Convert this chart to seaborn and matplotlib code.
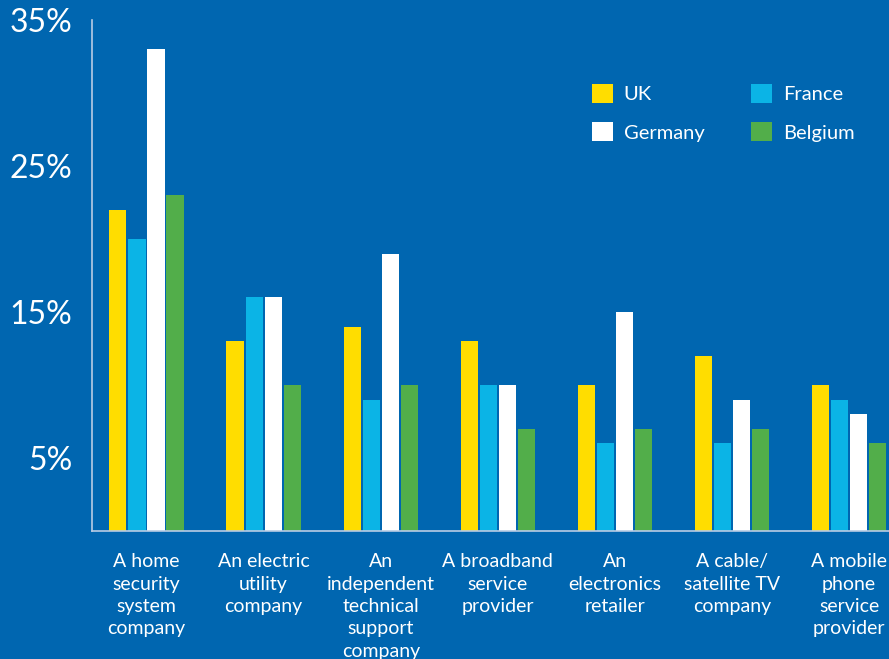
import seaborn as sns
import matplotlib.pyplot as plt
import pandas as pd

# Data (percent)
categories = ["A home\nsecurity\nsystem\ncompany", "An electric\nutility\ncompany",
              "An\nindependent\ntechnical\nsupport\ncompany", "A broadband\nservice\nprovider",
              "An\nelectronics\nretailer", "A cable/\nsatellite TV\ncompany",
              "A mobile\nphone\nservice\nprovider"]
countries = ["UK", "France", "Germany", "Belgium"]
uk = [22, 13, 14, 13, 10, 12, 10]
france = [20, 16, 9, 10, 6, 6, 9]
germany = [33, 16, 19, 10, 15, 9, 8]
belgium = [23, 10, 10, 7, 7, 7, 6]
yticks = [5, 15, 25, 35]

bg = "#0066B0"
palette = {"UK": "#FFDD00", "France": "#0BB4E6", "Germany": "#FFFFFF", "Belgium": "#52AE4A"}

rows = []
for name, vals in zip(countries, [uk, france, germany, belgium]):
    for cat, v in zip(categories, vals):
        rows.append({"category": cat, "country": name, "value": v})
df = pd.DataFrame(rows)

sns.set_style("white")
plt.rcParams["font.family"] = ["Lato", "DejaVu Sans"]

fig = plt.figure(figsize=(8.89, 6.59), dpi=100, facecolor=bg)
ax = fig.add_axes([92 / 889, 128 / 659, 1 - 92 / 889, (531 - 20) / 659])
ax.set_facecolor(bg)

sns.barplot(data=df, x="category", y="value", hue="country", hue_order=countries,
            palette=palette, width=0.65, gap=0.1, saturation=1, linewidth=0, ax=ax)

ax.set_xlim(-0.465, 6.34)
ax.set_ylim(0, 35)
ax.set_yticks(yticks)
ax.set_yticklabels([f"{t}%" for t in yticks], fontsize=23, color="white")
ax.set_xticks(range(len(categories)))
ax.set_xticklabels(categories, fontsize=14, color="white", linespacing=1.38)
ax.tick_params(axis="y", length=0, pad=14)
ax.tick_params(axis="x", length=0, pad=16)
ax.set_xlabel("")
ax.set_ylabel("")

for side in ["top", "right"]:
    ax.spines[side].set_visible(False)
for side in ["left", "bottom"]:
    ax.spines[side].set_color("#B8CCE4")
    ax.spines[side].set_linewidth(1.2)

handles, labels = ax.get_legend_handles_labels()
order = [0, 2, 1, 3]
leg = ax.legend([handles[i] for i in order], [labels[i] for i in order],
                ncol=2, frameon=False, loc="upper left", bbox_to_anchor=(0.604, 0.91),
                fontsize=14.5, handlelength=1.05, handleheight=1.05, columnspacing=2.3,
                handletextpad=0.55, labelspacing=0.95)
for t in leg.get_texts():
    t.set_color("white")
for h in leg.legend_handles:
    h.set_edgecolor("none")

fig.savefig("out.png", dpi=100, facecolor=bg)
